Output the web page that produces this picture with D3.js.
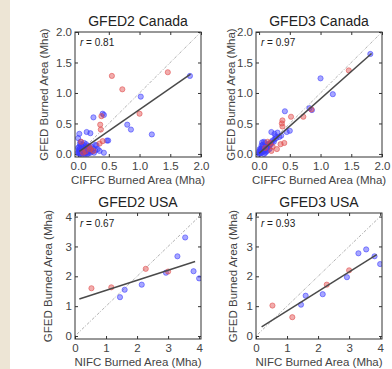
<!DOCTYPE html>
<html><head><meta charset="utf-8">
<script src="https://cdn.jsdelivr.net/npm/d3@7"></script>
<style>body{margin:0;background:#fff}svg{display:block}</style>
</head><body>
<svg id="c" width="392" height="369"></svg>
<script>
// ---- data ----
const titles = ["GFED2 Canada", "GFED3 Canada", "GFED2 USA", "GFED3 USA"];
const xLabels = ["CIFFC Burned Area (Mha)", "CIFFC Burned Area (Mha)", "NIFC Burned Area (Mha)", "NIFC Burned Area (Mha)"];
const yLabel = "GFED Burned Area (Mha)";
const rValues = ["0.81", "0.97", "0.67", "0.93"];
const canadaTicks = [0, 0.5, 1, 1.5, 2];
const usaTicks = [0, 1, 2, 3, 4];
// regression lines: [slope, intercept, xStart, xEnd]
const fitLines = [[0.70, 0.03, 0.02, 1.83], [0.895, 0.01, 0.0, 1.83], [0.338, 1.19, 0.14, 3.87], [0.652, 0.19, 0.18, 3.89]];

const canadaG2Blue = [[1.82,1.28],[1.02,0.94],[0.40,0.66],[0.42,0.64],[0.25,0.60],[0.80,0.48],[0.86,0.40],[1.20,0.32],[0.47,0.22],[0.49,0.22],[0.02,0.33],[0.0,0.26],[0.14,0.36],[0.20,0.34],[0.30,0.14],[0.42,0.02],[0.28,0.15],
[0.01,0.01],[0.02,0.03],[0.03,0.0],[0.04,0.05],[0.05,0.02],[0.06,0.08],[0.07,0.03],[0.08,0.06],[0.09,0.01],[0.10,0.04],[0.11,0.09],[0.12,0.02],[0.13,0.06],[0.14,0.11],[0.15,0.03],[0.16,0.08],[0.17,0.13],[0.18,0.05],[0.19,0.10],[0.20,0.02],[0.21,0.07],[0.22,0.12],[0.23,0.04],[0.25,0.09],[0.02,0.12],[0.03,0.17],[0.05,0.14],[0.01,0.07],[0.0,0.10],[0.04,0.20],[0.08,0.15],[0.10,0.18],[0.12,0.13],[0.06,0.0],[0.15,0.0],[0.26,0.02],[0.28,0.06],[0.32,0.08],[0.35,0.05],[0.02,0.05],[0.07,0.11],[0.09,0.07],[0.11,0.0],[0.13,0.16],[0.17,0.01],[0.03,0.09],[0.0,0.03]];
const canadaG2Red = [[0.55,1.28],[0.72,1.06],[1.46,1.34],[1.0,0.66],[0.38,0.62],[0.36,0.48],[0.37,0.40],[0.40,0.21],[0.05,0.20],[0.20,0.08],[0.35,0.17],[0.12,0.04],[0.18,0.12],[0.08,0.02],[0.25,0.05]];

const canadaG3Blue = [[1.81,1.64],[1.0,1.24],[1.2,0.98],[0.82,0.75],[0.86,0.72],[0.42,0.70],[0.45,0.36],[0.50,0.38],[0.20,0.36],[0.27,0.29],[0.30,0.35],[0.25,0.33],[0.36,0.30],[0.05,0.19],[0.08,0.20],[0.10,0.18],[0.04,0.14],
[0.0,0.0],[0.01,0.02],[0.02,0.01],[0.03,0.04],[0.04,0.02],[0.05,0.06],[0.06,0.03],[0.07,0.08],[0.08,0.05],[0.09,0.10],[0.10,0.07],[0.11,0.12],[0.12,0.09],[0.13,0.14],[0.14,0.11],[0.15,0.16],[0.16,0.13],[0.18,0.15],[0.19,0.19],[0.20,0.17],[0.22,0.22],[0.24,0.20],[0.02,0.06],[0.03,0.09],[0.05,0.11],[0.06,0.15],[0.0,0.04],[0.01,0.08],[0.12,0.04],[0.14,0.06],[0.17,0.08],[0.10,0.02],[0.08,0.0],[0.25,0.24],[0.28,0.26],[0.33,0.28]];
const canadaG3Red = [[1.46,1.37],[0.85,0.73],[0.72,0.61],[0.52,0.61],[0.38,0.55],[0.37,0.50],[0.38,0.45],[0.41,0.18],[0.35,0.16],[0.29,0.08],[0.18,0.18],[0.14,0.20],[0.22,0.12],[0.20,0.05],[0.10,0.10]];

const usaX = [0.53, 1.17, 1.45, 1.60, 2.15, 2.28, 2.93, 3.00, 3.30, 3.55, 3.82, 4.00];
const usaIsRed = [1, 1, 0, 0, 0, 1, 0, 1, 0, 0, 0, 0];
const usaG2 = [1.60, 1.63, 1.30, 1.55, 1.72, 2.25, 2.12, 2.16, 2.67, 3.30, 2.17, 1.93];
const usaG3 = [1.02, 0.63, 1.05, 1.35, 1.40, 1.72, 1.97, 2.20, 2.77, 2.90, 2.67, 2.41];

// ---- drawing ----
const svg = d3.select("#c");
svg.append("rect").attr("x",0).attr("y",0).attr("width",10).attr("height",369).attr("fill","#ede5d5");
const FONT = "Liberation Sans, Arial, Helvetica, sans-serif";
const BLUE = "#3b3bff", RED = "#e04848";

function usaPts(ys, red) {
  return usaX.map((x,i)=>[x, ys[i]]).filter((d,i)=> usaIsRed[i] === red);
}

const panels = [
  {left:75, top:32, h:125, xd:[-0.05,2.0], yd:[-0.05,2.0], ticks:canadaTicks, fmt:d3.format(".1f"), blue:canadaG2Blue, red:canadaG2Red, yl:-27},
  {left:256, top:32, h:125, xd:[-0.05,2.0], yd:[-0.05,2.0], ticks:canadaTicks, fmt:d3.format(".1f"), blue:canadaG3Blue, red:canadaG3Red, yl:-21},
  {left:75, top:213, h:126, xd:[0,4.06], yd:[-0.1,4.12], ticks:usaTicks, fmt:d3.format("d"), blue:usaPts(usaG2,0), red:usaPts(usaG2,1), yl:-23},
  {left:256, top:213, h:126, xd:[0,4.06], yd:[-0.1,4.12], ticks:usaTicks, fmt:d3.format("d"), blue:usaPts(usaG3,0), red:usaPts(usaG3,1), yl:-19}
];

panels.forEach((p, i) => {
  const w = 126, h = p.h;
  const x = d3.scaleLinear().domain(p.xd).range([0, w]);
  const y = d3.scaleLinear().domain(p.yd).range([h, 0]);
  const g = svg.append("g").attr("transform", `translate(${p.left},${p.top})`);
  const clipId = "clip" + i;
  g.append("clipPath").attr("id", clipId).append("rect").attr("width", w).attr("height", h);

  // axes with inward ticks
  const axStyle = sel => {
    sel.select(".domain").remove();
    sel.selectAll(".tick line").attr("stroke", "#333");
    sel.selectAll(".tick text").attr("fill", "#444").style("font-family", FONT).style("font-size", "11.5px");
  };
  g.append("g").attr("transform", `translate(0,${h})`)
    .call(d3.axisBottom(x).tickValues(p.ticks).tickFormat(p.fmt).tickSizeInner(-3).tickPadding(5))
    .call(axStyle);
  g.append("g")
    .call(d3.axisLeft(y).tickValues(p.ticks).tickFormat(p.fmt).tickSizeInner(-3).tickPadding(3))
    .call(axStyle);
  g.append("g")
    .call(d3.axisTop(x).tickValues(p.ticks).tickFormat("").tickSizeInner(-3))
    .call(axStyle);
  g.append("g").attr("transform", `translate(${w},0)`)
    .call(d3.axisRight(y).tickValues(p.ticks).tickFormat("").tickSizeInner(-3))
    .call(axStyle);

  const inner = g.append("g").attr("clip-path", `url(#${clipId})`);
  // 1:1 line
  const lo = Math.min(p.xd[0], p.yd[0]), hi = Math.max(p.xd[1], p.yd[1]);
  inner.append("line")
    .attr("x1", x(lo)).attr("y1", y(lo)).attr("x2", x(hi)).attr("y2", y(hi))
    .attr("stroke", "#a8a8a8").attr("stroke-width", 0.9).attr("stroke-dasharray", "3,1.5,1,1.5");

  // points
  const drawPts = (data, col) => inner.selectAll(null).data(data).enter().append("circle")
    .attr("cx", d => x(d[0])).attr("cy", d => y(d[1])).attr("r", 2.6)
    .attr("fill", col).attr("fill-opacity", 0.45)
    .attr("stroke", col).attr("stroke-opacity", 0.7).attr("stroke-width", 0.8);
  drawPts(p.blue, BLUE);
  drawPts(p.red, RED);

  // regression line
  const f = fitLines[i];
  inner.append("line")
    .attr("x1", x(f[2])).attr("y1", y(f[0]*f[2]+f[1]))
    .attr("x2", x(f[3])).attr("y2", y(f[0]*f[3]+f[1]))
    .attr("stroke", "#4a4a4a").attr("stroke-width", 1.5);

  // border
  g.append("rect").attr("width", w).attr("height", h).attr("fill", "none").attr("stroke", "#333").attr("stroke-width", 1);

  // r label
  const t = g.append("text").attr("x", 5).attr("y", 14).style("font-family", FONT).style("font-size", "10px").attr("fill", "#222");
  t.append("tspan").style("font-style", "italic").text("r");
  t.append("tspan").text(" = " + rValues[i]);

  // title
  g.append("text").attr("x", w/2).attr("y", -6).attr("text-anchor", "middle")
    .style("font-family", FONT).style("font-size", "14px").attr("fill", "#222").text(titles[i]);
  // x label
  g.append("text").attr("x", w/2).attr("y", h + 27).attr("text-anchor", "middle")
    .style("font-family", FONT).style("font-size", "11.5px").attr("fill", "#444").text(xLabels[i]);
  // y label
  g.append("text").attr("transform", `translate(${p.yl},${h/2}) rotate(-90)`).attr("text-anchor", "middle")
    .style("font-family", FONT).style("font-size", "11.5px").attr("fill", "#444").text(yLabel);
});
</script>
</body></html>
